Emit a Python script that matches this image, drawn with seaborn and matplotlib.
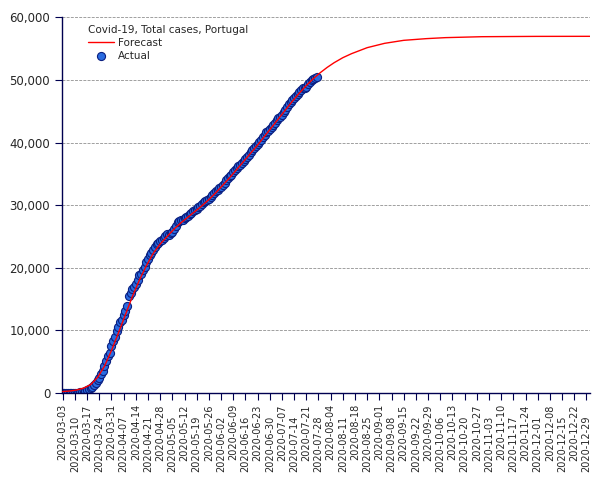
import numpy as np
import pandas as pd
import seaborn as sns
import matplotlib
matplotlib.use("Agg")
import matplotlib.pyplot as plt
from matplotlib.ticker import FuncFormatter

# Dados reais (casos acumulados) de 2020-03-03 a 2020-07-27
inicio_real = "2020-03-03"
casos_marco = [4, 6, 9, 13, 21, 30, 39, 41, 59, 78, 112, 169, 245, 331, 448,
               642, 785, 1020, 1280, 1600, 2060, 2362, 2995, 3544, 4268, 5170,
               5962, 6408, 7443]
casos_abril = [8251, 9034, 9886, 10524, 11278, 11730, 12442, 13141, 13956,
               15472, 15987, 16585, 16934, 17448, 18091, 18841, 19022, 19685,
               20206, 20863, 21379, 21982, 22353, 22797, 23392, 23864, 24027,
               24322, 24505, 24692]
casos_maio = [25045, 25351, 25282, 25524, 25702, 26182, 26715, 27268, 27406,
              27581, 27679, 27913, 28132, 28319, 28583, 28810, 29036, 29209,
              29432, 29660, 29912, 30200, 30471, 30623, 30788, 31007, 31292,
              31596, 31946, 32203, 32500]
casos_junho = [32700, 32895, 33261, 33592, 33969, 34351, 34693, 34885, 35306,
               35600, 35910, 36180, 36463, 36690, 37036, 37336, 37672, 38089,
               38464, 38841, 39133, 39392, 39737, 40104, 40415, 40866, 41189,
               41646, 41912, 42141]
casos_julho = [42454, 42782, 43156, 43569, 43897, 44129, 44416, 44859, 45277,
               45679, 46221, 46512, 46818, 47051, 47426, 47765, 48077, 48390,
               48636, 48771, 48898, 49379, 49692, 49955, 50164, 50299, 50410]

# Previsao
datas_prev = ["2020-03-03", "2020-03-07", "2020-03-11", "2020-03-15", "2020-03-19",
              "2020-03-23", "2020-03-27", "2020-03-31", "2020-04-04", "2020-04-08",
              "2020-04-12", "2020-04-16", "2020-04-20", "2020-04-24", "2020-04-28",
              "2020-05-02", "2020-05-06", "2020-05-10", "2020-05-14", "2020-05-18",
              "2020-05-22", "2020-05-26", "2020-05-30", "2020-06-03", "2020-06-07",
              "2020-06-11", "2020-06-15", "2020-06-19", "2020-06-23", "2020-06-27",
              "2020-07-01", "2020-07-05", "2020-07-09", "2020-07-13", "2020-07-17",
              "2020-07-21", "2020-07-25", "2020-07-29", "2020-08-02", "2020-08-06",
              "2020-08-11", "2020-08-16", "2020-08-25", "2020-09-04", "2020-09-15",
              "2020-09-28", "2020-10-09", "2020-10-30", "2020-11-30", "2020-12-31"]
valores_prev = [250, 330, 500, 800, 1350, 2500, 4300, 6800, 9600, 12500,
                15400, 18000, 20300, 22300, 23800, 25000, 26200, 27200, 28100, 29000,
                29900, 30900, 32000, 33200, 34400, 35700, 37000, 38300, 39600, 41000,
                42400, 43800, 45200, 46600, 47900, 49100, 50200, 51150, 52000, 52750,
                53550, 54190, 55150, 55840, 56320, 56590, 56750, 56900, 56950, 56960]

casos = casos_marco + casos_abril + casos_maio + casos_junho + casos_julho
real = pd.DataFrame({"data": pd.date_range(inicio_real, periods=len(casos), freq="D"),
                     "casos": casos})
prev = pd.DataFrame({"data": pd.to_datetime(datas_prev), "casos": valores_prev})

sns.set_style("white")
plt.rcParams["font.family"] = ["DejaVu Sans"]

fig = plt.figure(figsize=(6.05, 4.8), dpi=100)
ax = fig.add_axes([0.1025, 0.181, 0.8725, 0.783])

sns.lineplot(data=prev, x="data", y="casos", color="#ff0000", linewidth=1,
             label="Forecast", ax=ax, zorder=3)
sns.scatterplot(data=real, x="data", y="casos", color="#2a6be0",
                edgecolor="#0b1f80", linewidth=0.8, s=34, label="Actual",
                ax=ax, zorder=2)

ax.set_ylim(0, 60000)
ax.set_yticks(range(0, 60001, 10000))
ax.yaxis.set_major_formatter(FuncFormatter(lambda v, p: f"{int(v):,}"))
ax.set_xlim(pd.Timestamp("2020-03-02 14:00"), pd.Timestamp("2020-12-31"))
ticks = pd.date_range("2020-03-03", "2020-12-29", freq="7D")
ax.set_xticks(ticks)
ax.set_xticklabels([t.strftime("%Y-%m-%d") for t in ticks], rotation=90,
                   fontsize=7)
for i, tk in enumerate(ax.xaxis.get_major_ticks()):
    tk.set_pad(3 if i % 2 == 0 else 11)

ax.set_xlabel("")
ax.set_ylabel("")
ax.grid(axis="y", color="#a0a0a0", linestyle=(0, (3, 1.3)), linewidth=0.7)
ax.tick_params(axis="y", labelsize=8.5, length=5, color="#000050", direction="out",
               left=True)
ax.tick_params(axis="x", length=5, color="#000050", direction="out", bottom=True)
for s in ["top", "right"]:
    ax.spines[s].set_visible(False)
for s in ["left", "bottom"]:
    ax.spines[s].set_color("#000050")
    ax.spines[s].set_linewidth(1)

leg = ax.legend(title="Covid-19, Total cases, Portugal", loc="upper left",
                bbox_to_anchor=(0.035, 1.0), frameon=False, fontsize=7.5,
                title_fontsize=7.5, handlelength=2.5, borderpad=0.2,
                labelspacing=0.3, handletextpad=0.4)
leg._legend_box.align = "left"

fig.savefig("out.png", dpi=100)
